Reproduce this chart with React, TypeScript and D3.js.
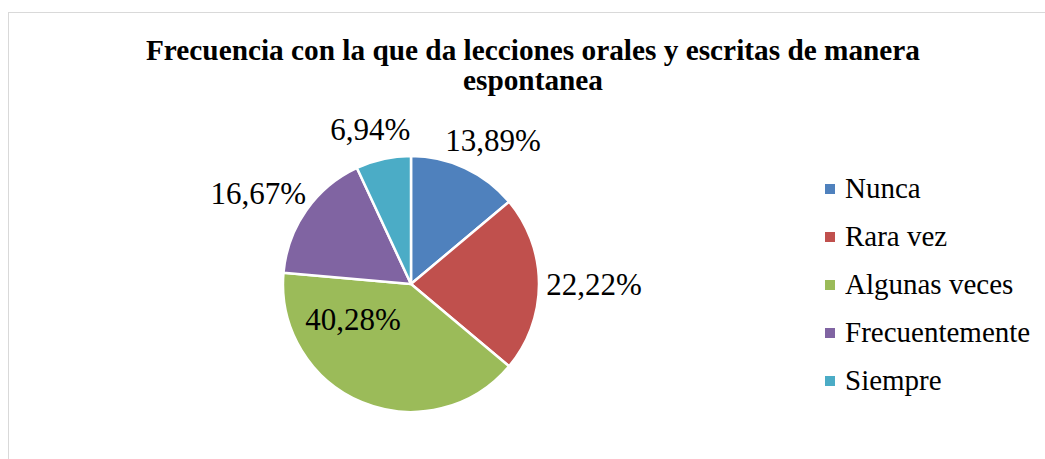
import React, { useEffect, useRef } from 'react';
import * as d3 from 'd3';

const categories = ['Nunca', 'Rara vez', 'Algunas veces', 'Frecuentemente', 'Siempre'];
const values = [13.89, 22.22, 40.28, 16.67, 6.94];
const colors = ['#4F81BD', '#C0504D', '#9BBB59', '#8064A2', '#4BACC6'];
// Excel "best fit": only the big slice keeps its label inside
const insideLabel = [false, false, true, false, false];
const titleLines = ['Frecuencia con la que da lecciones orales y escritas de manera', 'espontanea'];

const WIDTH = 1045;
const HEIGHT = 459;

const App = () => {
  const ref = useRef<SVGSVGElement | null>(null);

  useEffect(() => {
    const svg = d3.select(ref.current);
    svg.selectAll('*').remove();

    const cx = 411;
    const cy = 284;
    const r = 128;
    const font = 'Liberation Serif';

    // chart frame (runs off the right and bottom of the picture)
    svg
      .append('rect')
      .attr('x', 8.5)
      .attr('y', 12.5)
      .attr('width', 1100)
      .attr('height', 500)
      .attr('fill', '#fff')
      .attr('stroke', '#d9d9d9')
      .attr('stroke-width', 1);

    svg
      .append('text')
      .attr('text-anchor', 'middle')
      .attr('font-family', font)
      .attr('font-weight', 'bold')
      .attr('font-size', 29.3)
      .selectAll('tspan')
      .data(titleLines)
      .enter()
      .append('tspan')
      .attr('x', 533)
      .attr('y', (d, i) => 60 + i * 30)
      .text((d) => d);

    const pie = d3
      .pie<number>()
      .sort(null)
      .value((d) => d);
    const arcs = pie(values);
    const arc = d3.arc<d3.PieArcDatum<number>>().innerRadius(0).outerRadius(r);

    const g = svg.append('g').attr('transform', `translate(${cx},${cy})`);

    g.selectAll('path')
      .data(arcs)
      .enter()
      .append('path')
      .attr('d', arc)
      .attr('fill', (d, i) => colors[i])
      .attr('stroke', '#fff')
      .attr('stroke-width', 2.5)
      .attr('stroke-linejoin', 'round');

    // data labels
    const fmt = (v: number) => d3.format('.2f')(v).replace('.', ',') + '%';
    const labels = g
      .selectAll('.lbl')
      .data(arcs)
      .enter()
      .append('text')
      .attr('class', 'lbl')
      .attr('font-family', font)
      .attr('font-size', 31)
      .attr('text-anchor', 'middle')
      .attr('fill', '#000')
      .text((d) => fmt(d.data));

    labels.each(function (d, i) {
      const node = this as SVGTextElement;
      const w = node.getComputedTextLength();
      const digitH = 21;
      const boxH = 36;
      let x: number;
      let y: number;
      if (insideLabel[i]) {
        const a = ((d.startAngle + d.endAngle) / 2 + d.endAngle) / 2;
        const dist = r * 0.53;
        x = Math.sin(a) * dist;
        y = -Math.cos(a) * dist;
      } else {
        const a = (d.startAngle + d.endAngle) / 2;
        const s = Math.sin(a);
        const ax = s * (r + 12);
        const ay = -Math.cos(a) * (r + 12);
        x = ax + (w / 2) * s * (1.3 - 0.4 * Math.abs(s));
        y = ay - (boxH / 2) * Math.cos(a);
      }
      d3.select(node)
        .attr('x', x)
        .attr('y', y + digitH / 2);
    });

    // legend
    const legend = svg
      .selectAll('.legend')
      .data(categories)
      .enter()
      .append('g')
      .attr('class', 'legend')
      .attr('transform', (d, i) => `translate(825, ${189 + i * 48})`);

    legend
      .append('rect')
      .attr('x', 0)
      .attr('y', -5)
      .attr('width', 10)
      .attr('height', 10)
      .attr('fill', (d, i) => colors[i]);

    legend
      .append('text')
      .attr('x', 20)
      .attr('y', 9)
      .attr('font-family', font)
      .attr('font-size', 29)
      .attr('fill', '#000')
      .text((d) => d);

    return () => {
      svg.selectAll('*').remove();
    };
  }, []);

  return (
    <svg
      ref={ref}
      width={WIDTH}
      height={HEIGHT}
      style={{ position: 'absolute', left: 0, top: 0, background: '#fff' }}
    />
  );
};

export default App;
